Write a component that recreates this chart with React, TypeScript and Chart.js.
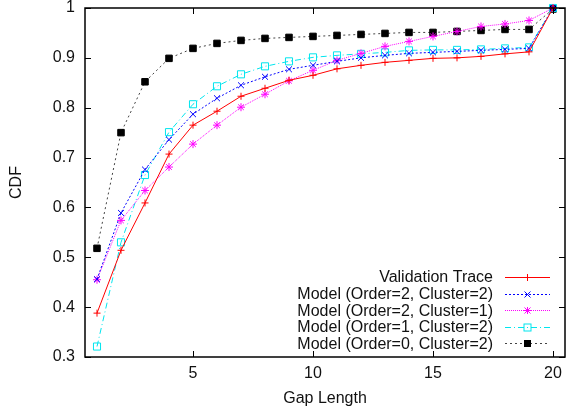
import React, { useEffect, useRef } from 'react';
import { Chart, registerables } from 'chart.js';

Chart.register(...registerables);

const gapLengths = [1, 2, 3, 4, 5, 6, 7, 8, 9, 10, 11, 12, 13, 14, 15, 16, 17, 18, 19, 20];
const validationTrace = [0.388, 0.514, 0.609, 0.707, 0.765, 0.793, 0.823, 0.839, 0.855, 0.865, 0.878, 0.885, 0.891, 0.895, 0.899, 0.9, 0.903, 0.908, 0.912, 1.0];
const modelO2C2 = [0.456, 0.589, 0.676, 0.736, 0.787, 0.819, 0.845, 0.862, 0.877, 0.885, 0.893, 0.9, 0.905, 0.909, 0.911, 0.913, 0.915, 0.917, 0.919, 1.0];
const modelO2C1 = [0.455, 0.574, 0.634, 0.681, 0.727, 0.765, 0.801, 0.827, 0.854, 0.875, 0.895, 0.909, 0.923, 0.933, 0.943, 0.953, 0.963, 0.968, 0.975, 1.0];
const modelO1C2 = [0.321, 0.53, 0.665, 0.751, 0.807, 0.843, 0.867, 0.883, 0.893, 0.901, 0.905, 0.908, 0.911, 0.915, 0.916, 0.916, 0.917, 0.919, 0.921, 1.0];
const modelO0C2 = [0.518, 0.75, 0.852, 0.899, 0.919, 0.929, 0.935, 0.939, 0.941, 0.943, 0.945, 0.947, 0.949, 0.951, 0.951, 0.953, 0.955, 0.957, 0.957, 0.998];

const seriesLabels = [
  'Validation Trace',
  'Model (Order=2, Cluster=2)',
  'Model (Order=2, Cluster=1)',
  'Model (Order=1, Cluster=2)',
  'Model (Order=0, Cluster=2)',
];
const xTicks = [5, 10, 15, 20];
const yTicks = [0.3, 0.4, 0.5, 0.6, 0.7, 0.8, 0.9, 1];
const xTitle = 'Gap Length';
const yTitle = 'CDF';

const FONT = '"Liberation Sans", Arial, sans-serif';
const TEXT = '#111';

type Mk = 'plus' | 'x' | 'star' | 'box' | 'fbox';

function drawMarker(ctx: CanvasRenderingContext2D, kind: Mk, x: number, y: number, color: string) {
  ctx.save();
  ctx.strokeStyle = color;
  ctx.fillStyle = color;
  ctx.lineWidth = 1;
  ctx.setLineDash([]);
  ctx.beginPath();
  const r = 3.5;
  if (kind === 'plus' || kind === 'star') {
    ctx.moveTo(x - r, y); ctx.lineTo(x + r, y);
    ctx.moveTo(x, y - r); ctx.lineTo(x, y + r);
  }
  if (kind === 'x' || kind === 'star') {
    const d = 3;
    ctx.moveTo(x - d, y - d); ctx.lineTo(x + d, y + d);
    ctx.moveTo(x - d, y + d); ctx.lineTo(x + d, y - d);
  }
  ctx.stroke();
  if (kind === 'box') {
    ctx.strokeRect(x - 3.5, y - 3.5, 7, 7);
    ctx.fillRect(x - 0.5, y - 0.5, 1, 1);
  }
  if (kind === 'fbox') {
    ctx.fillRect(x - 3.5, y - 3.5, 7, 7);
  }
  ctx.restore();
}

const styles = [
  { color: '#ff0000', line: '#ff0000', dash: [] as number[], marker: 'plus' as Mk, pointStyle: 'cross', radius: 3.5 },
  { color: '#0000ff', line: '#0000ff', dash: [2, 2], marker: 'x' as Mk, pointStyle: 'crossRot', radius: 4.2 },
  { color: '#ff00ff', line: '#ff00ff', dash: [1, 1], marker: 'star' as Mk, pointStyle: 'star', radius: 4 },
  { color: '#00e5ee', line: '#00e5ee', dash: [6, 3, 1, 3], marker: 'box' as Mk, pointStyle: 'rect', radius: 5 },
  { color: '#000000', line: '#444444', dash: [2, 3], marker: 'fbox' as Mk, pointStyle: 'rect', radius: 4.6 },
];

const seriesValues = [validationTrace, modelO2C2, modelO2C1, modelO1C2, modelO0C2];

const framePlugin = {
  id: 'gnuFrame',
  afterDatasetsDraw(chart: any) {
    const { ctx, chartArea: a, scales } = chart;
    ctx.save();
    ctx.strokeStyle = '#000';
    ctx.lineWidth = 1.5;
    ctx.setLineDash([]);
    ctx.strokeRect(a.left, a.top, a.right - a.left, a.bottom - a.top);
    ctx.beginPath();
    for (const v of yTicks) {
      const py = Math.round(scales.y.getPixelForValue(v)) + 0.5;
      ctx.moveTo(a.left, py); ctx.lineTo(a.left + 6, py);
      ctx.moveTo(a.right, py); ctx.lineTo(a.right - 6, py);
    }
    for (const v of xTicks) {
      const px = Math.round(scales.x.getPixelForValue(v)) + 0.5;
      ctx.moveTo(px, a.bottom); ctx.lineTo(px, a.bottom - 6);
      ctx.moveTo(px, a.top); ctx.lineTo(px, a.top + 6);
    }
    ctx.lineWidth = 1;
    ctx.stroke();

    // axis titles
    ctx.fillStyle = TEXT;
    ctx.font = `16px ${FONT}`;
    ctx.textAlign = 'center';
    ctx.textBaseline = 'middle';
    ctx.fillText(xTitle, (a.left + a.right) / 2, 399);
    ctx.save();
    ctx.translate(17, (a.top + a.bottom) / 2);
    ctx.rotate(-Math.PI / 2);
    ctx.fillText(yTitle, 0, 0);
    ctx.restore();

    // legend
    const rowY0 = 277;
    const rowH = 16.6;
    seriesLabels.forEach((label, i) => {
      const s = styles[i];
      const y = rowY0 + i * rowH;
      ctx.fillStyle = TEXT;
      ctx.textAlign = 'right';
      ctx.textBaseline = 'middle';
      ctx.fillText(label, 493, y + 1);
      ctx.save();
      ctx.strokeStyle = s.line;
      ctx.lineWidth = 1;
      ctx.setLineDash(s.dash);
      ctx.beginPath();
      ctx.moveTo(505, Math.round(y) + 0.5);
      ctx.lineTo(550, Math.round(y) + 0.5);
      ctx.stroke();
      ctx.restore();
      drawMarker(ctx, s.marker, 527.5, Math.round(y) + 0.5, s.color);
    });
    ctx.restore();
  },
};

function zeroPad(scale: any) {
  scale.paddingTop = 0;
  scale.paddingBottom = 0;
  scale.paddingLeft = 0;
  scale.paddingRight = 0;
}

export default function App() {
  const ref = useRef<HTMLCanvasElement | null>(null);
  useEffect(() => {
    if (!ref.current) return;
    const datasets = seriesValues.map((vals, i) => {
      const s = styles[i];
      return {
        label: seriesLabels[i],
        data: gapLengths.map((x, j) => ({ x, y: vals[j] })),
        borderColor: s.line,
        pointBorderColor: s.color,
        pointBackgroundColor: i === 4 ? s.color : 'rgba(0,0,0,0)',
        borderWidth: 1,
        borderDash: s.dash,
        pointStyle: s.pointStyle,
        pointRadius: s.radius,
        pointBorderWidth: 1,
        pointHoverRadius: s.radius,
        tension: 0,
        fill: false,
        clip: false as any,
      };
    });
    const chart = new Chart(ref.current, {
      type: 'line',
      data: { datasets },
      options: {
        animation: false,
        responsive: false,
        devicePixelRatio: 1,
        events: [],
        layout: { padding: { top: 8, right: 1, left: 0, bottom: 0 } },
        plugins: { legend: { display: false }, tooltip: { enabled: false } },
        scales: {
          x: {
            type: 'linear',
            min: 0.5,
            max: 20.5,
            grid: { display: false, drawTicks: false },
            border: { display: false },
            afterBuildTicks: (scale: any) => {
              scale.ticks = xTicks.map((v) => ({ value: v }));
            },
            afterFit: (scale: any) => {
              scale.height = 54;
              zeroPad(scale);
            },
            ticks: {
              padding: 7,
              color: TEXT,
              font: { family: FONT, size: 16 },
              maxRotation: 0,
              autoSkip: false,
              callback: (v: any) => String(v),
            },
          },
          y: {
            type: 'linear',
            min: 0.3,
            max: 1,
            grid: { display: false, drawTicks: false },
            border: { display: false },
            afterBuildTicks: (scale: any) => {
              scale.ticks = yTicks.map((v) => ({ value: v }));
            },
            afterFit: (scale: any) => {
              scale.width = 85;
              zeroPad(scale);
            },
            ticks: {
              padding: 10,
              color: TEXT,
              font: { family: FONT, size: 16 },
              autoSkip: false,
              callback: (v: any) => (Math.abs(v - 1) < 1e-9 ? '1' : Number(v).toFixed(1)),
            },
          },
        },
      },
      plugins: [framePlugin],
    });
    return () => chart.destroy();
  }, []);
  return (
    <div style={{ position: 'fixed', left: 0, top: 0, width: 571, height: 411, background: '#fff' }}>
      <canvas ref={ref} width={571} height={411} style={{ display: 'block', width: 571, height: 411 }} />
    </div>
  );
}
